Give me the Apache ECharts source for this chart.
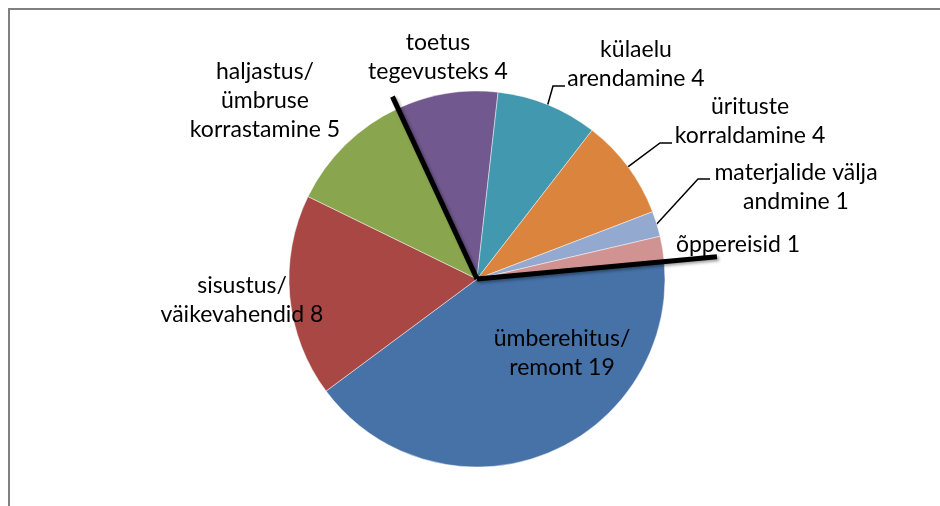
<!DOCTYPE html>
<html>
<head>
<meta charset="utf-8">
<script src="https://cdn.jsdelivr.net/npm/echarts@6/dist/echarts.min.js"></script>
<style>
html,body{margin:0;padding:0;background:#fff;}
#chart{width:940px;height:506px;}
</style>
</head>
<body>
<div id="chart"></div>
<script>
// Data (clockwise from the right side)
const categories = [
  'ümberehitus/\nremont',
  'sisustus/\nväikevahendid',
  'haljastus/\nümbruse\nkorrastamine',
  'toetus\ntegevusteks',
  'külaelu\narendamine',
  'ürituste\nkorraldamine',
  'materjalide välja\nandmine',
  'õppereisid'
];
const values = [19, 8, 5, 4, 4, 4, 1, 1];
const colors = ['#4672A8', '#A94745', '#89A54E', '#71588F', '#4198AF', '#DB843D', '#93A9CF', '#D19392'];

// Label placement (annotation layout, not data)
const labelPos = [
  [562, 353], [242, 300], [265, 101], [438, 57],
  [636, 64], [750, 121], [796, 187], [738, 245]
];
const leaderShow = [false, false, false, false, true, true, true, false];
const leaderElbow = [null, null, null, null,
  [[553, 86], [565, 86]],
  [[660, 143], [672, 143]],
  [[698, 179], [710, 179]],
  null];

const cx = 477, cy = 279, R = 188, startAngle = 5.3;
const total = values.reduce((a, b) => a + b, 0);
function boundaryPoint(idx, len) {
  let cum = 0;
  for (let i = 0; i < idx; i++) cum += values[i];
  const a = (startAngle - cum * 360 / total) * Math.PI / 180;
  return [cx + len * Math.cos(a), cy - len * Math.sin(a)];
}
const p1 = boundaryPoint(3, 201);
const p2 = boundaryPoint(0, 241);
const lineStyle = {
  stroke: '#000', lineWidth: 5,
  shadowBlur: 3, shadowOffsetX: 2, shadowOffsetY: 2, shadowColor: 'rgba(0,0,0,0.35)'
};

const chart = echarts.init(document.getElementById('chart'), null, {renderer: 'canvas'});
chart.setOption({
  animation: false,
  backgroundColor: '#fff',
  graphic: [
    {type: 'rect', shape: {x: 9, y: 9, width: 1000, height: 1000},
     style: {fill: 'none', stroke: '#808080', lineWidth: 2}, z: 0},
    {type: 'line', shape: {x1: cx, y1: cy, x2: p1[0], y2: p1[1]}, style: lineStyle, z: 100},
    {type: 'line', shape: {x1: cx, y1: cy, x2: p2[0], y2: p2[1]}, style: lineStyle, z: 100}
  ],
  series: [{
    type: 'pie',
    center: [cx, cy],
    radius: R,
    startAngle: startAngle,
    clockwise: true,
    avoidLabelOverlap: false,
    itemStyle: {borderColor: 'rgba(255,255,255,0.45)', borderWidth: 1},
    label: {
      show: true,
      position: 'outside',
      formatter: '{b} {c}',
      fontFamily: 'Lato',
      fontSize: 23,
      lineHeight: 29,
      color: '#000',
      align: 'center'
    },
    labelLine: {show: false, lineStyle: {color: '#000', width: 1.5}},
    labelLayout: function (params) {
      const i = params.dataIndex;
      const res = {x: labelPos[i][0], y: labelPos[i][1], align: 'center', verticalAlign: 'middle'};
      if (leaderShow[i] && params.labelLinePoints) {
        res.labelLinePoints = [params.labelLinePoints[0], leaderElbow[i][0], leaderElbow[i][1]];
      }
      return res;
    },
    data: categories.map((c, i) => ({
      name: c,
      value: values[i],
      itemStyle: {color: colors[i]},
      labelLine: {show: leaderShow[i]}
    }))
  }]
});
</script>
</body>
</html>
